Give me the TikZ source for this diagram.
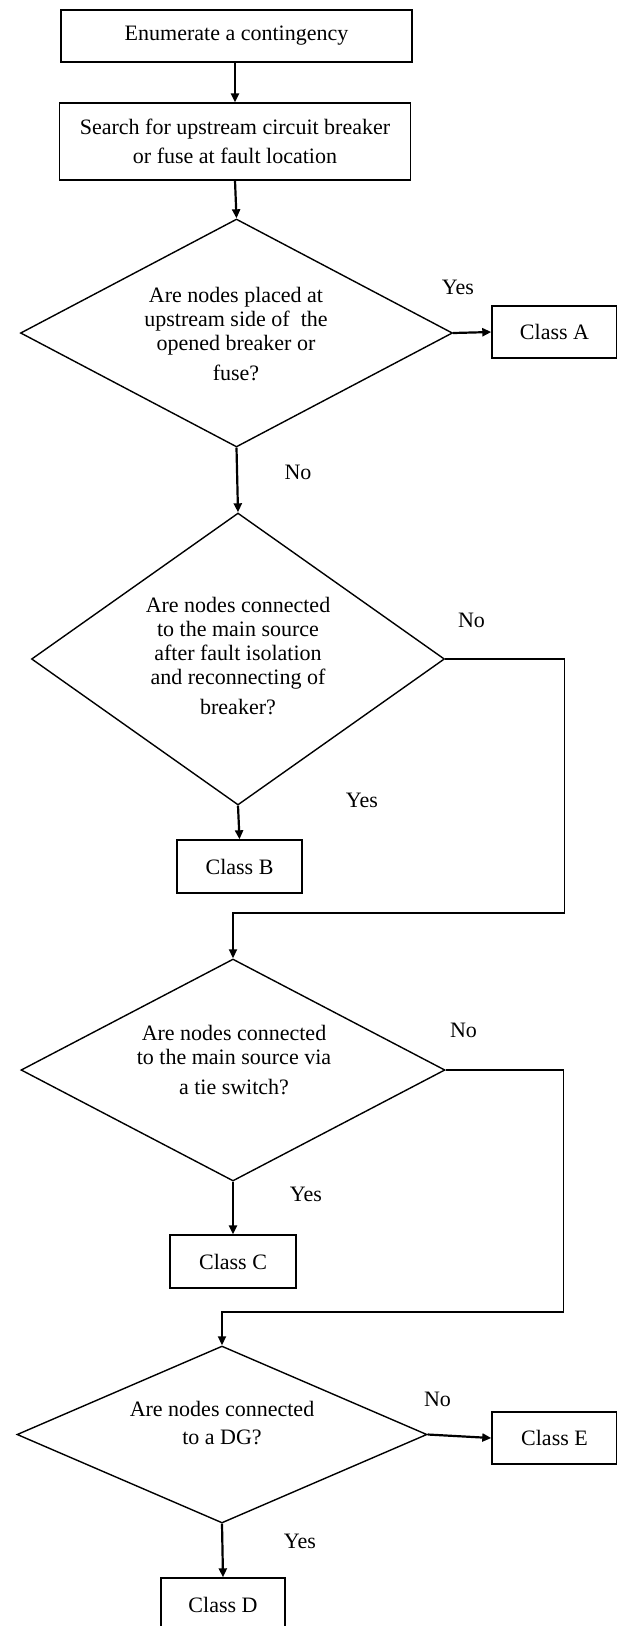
\documentclass[tikz,border=0pt]{standalone}
\usepackage{fontspec}
\setmainfont{Liberation Serif}
\usetikzlibrary{shapes.geometric,arrows.meta}
\begin{document}
\begin{tikzpicture}[x=1pt,y=-1pt,
  every node/.style={font=\fontsize{22}{24}\selectfont},
  box/.style={draw,line width=1.4pt,inner sep=0pt,align=center},
  dec/.style={draw,diamond,line width=1.4pt,inner sep=0pt},
  txt/.style={inner sep=0pt,align=center},
  arr/.style={line width=2.2pt,-{Triangle[length=9pt,width=8pt]}},
  route/.style={line width=1.8pt,-{Triangle[length=9pt,width=8pt]}},
  lbl/.style={inner sep=0pt}]
\useasboundingbox (0,0) rectangle (617,1626);

% boxes
\node[box,minimum width=351pt,minimum height=52pt] (b1) at (236.5,36) {Enumerate a contingency};
\node[box,minimum width=351pt,minimum height=77pt] (b2) at (235,141.5) {Search for upstream circuit breaker\\[5pt] or fuse at fault location};

% diamond 1
\node[dec,minimum width=432pt,minimum height=228pt] (d1) at (236.5,333) {};
\node[txt] (t1) at (236,334) {Are nodes placed at\\ upstream side of \ the\\ opened breaker or\\[6pt] fuse?};
\node[box,minimum width=125pt,minimum height=52pt] (cA) at (554.5,332) {Class A};

% diamond 2
\node[dec,minimum width=413pt,minimum height=292pt] (d2) at (238,659) {};
\node[txt] (t2) at (238,656) {Are nodes connected\\ to the main source\\ after fault isolation\\ and reconnecting of\\[6pt] breaker?};
\node[box,minimum width=125pt,minimum height=53pt] (cB) at (239.5,866.5) {Class B};

% diamond 3
\node[dec,minimum width=424pt,minimum height=222pt] (d3) at (233,1070) {};
\node[txt] (t3) at (234,1060) {Are nodes connected\\ to the main source via\\[6pt] a tie switch?};
\node[box,minimum width=126pt,minimum height=53pt] (cC) at (233,1261.5) {Class C};

% diamond 4
\node[dec,minimum width=410pt,minimum height=177pt] (d4) at (222,1434.5) {};
\node[txt] (t4) at (222,1423) {Are nodes connected\\[4pt] to a DG?};
\node[box,minimum width=125pt,minimum height=52pt] (cE) at (554.5,1438) {Class E};
\node[box,minimum width=124pt,minimum height=53pt] (cD) at (223,1604.5) {Class D};

% labels
\node[lbl] (y1) at (458,287) {Yes};
\node[lbl] (n1) at (298,472) {No};
\node[lbl] (n2) at (471.5,620) {No};
\node[lbl] (y2) at (362,800) {Yes};
\node[lbl] (n3) at (463.5,1030) {No};
\node[lbl] (y3) at (306,1194) {Yes};
\node[lbl] (n4) at (437.5,1399) {No};
\node[lbl] (y4) at (300,1541) {Yes};

% connectors
\coordinate (r2) at (564.5,913);
\coordinate (r3) at (563.5,1312);
\draw[arr] (b1.south -| b2.north) -- (b2.north);
\draw[arr] (b2.south) -- (d1.north);
\draw[arr] (d1.east) -- (cA.west);
\draw[arr] (d1.south) -- (d2.north);
\draw[arr] (d2.south) -- (cB.north);
\draw[route] (d2.east) -| (r2) -| (d3.north);
\draw[arr] (d3.south) -- (cC.north);
\draw[route] (d3.east) -| (r3) -| (d4.north);
\draw[arr] (d4.east) -- (cE.west);
\draw[arr] (d4.south) -- (cD.north);
\end{tikzpicture}
\end{document}
